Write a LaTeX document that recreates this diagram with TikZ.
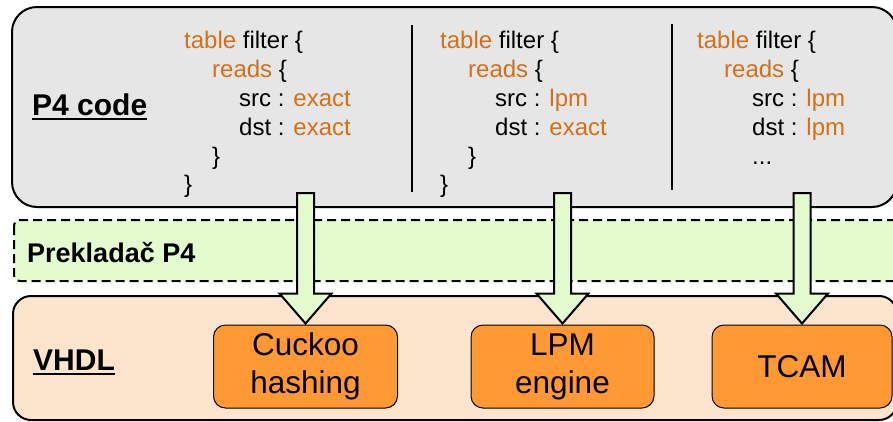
\documentclass[tikz,border=0pt]{standalone}
\usepackage{fontspec}
\setmainfont{Liberation Sans}
\usetikzlibrary{calc}

\definecolor{codegray}{RGB}{230,230,230}
\definecolor{compgreen}{RGB}{227,251,205}
\definecolor{vhdlpeach}{RGB}{253,229,205}
\definecolor{engineorange}{RGB}{255,153,51}
\definecolor{keyword}{RGB}{212,112,24}

\newcommand\kw[1]{\textcolor{keyword}{#1}}

\tikzset{
  layer/.style={draw=black, line width=2pt},
  codeline/.style={anchor=base west, inner sep=0pt, font=\fontsize{24}{29}\selectfont},
  title/.style={anchor=base west, inner sep=0pt, font=\fontsize{30}{35}\selectfont\bfseries},
  ulined/.style={line width=2pt},
  divider/.style={line width=2.5pt},
  engine/.style={draw=black, line width=1pt, fill=engineorange, rounded corners=12pt,
    align=center, font=\fontsize{31.5}{38}\selectfont},
  fatarrow/.style={draw=black, line width=2pt, fill=compgreen, line join=miter},
}

% block arrow from a start coordinate down to the north side of an engine box
\newcommand\fatarrow[2]{%
  \path[fatarrow]
    ([xshift=-8.5pt]#1) -- ([xshift=-8.5pt,yshift=31pt]#2.north)
    -- ([xshift=-26pt,yshift=31pt]#2.north) -- ([yshift=1pt]#2.north)
    -- ([xshift=26pt,yshift=31pt]#2.north) -- ([xshift=8.5pt,yshift=31pt]#2.north)
    -- ([xshift=8.5pt]#1) -- cycle;}

\begin{document}
\begin{tikzpicture}[x=1pt,y=-1pt]
\useasboundingbox (0,0) rectangle (893,421);
\clip (0,0) rectangle (893,421);

% layers
\path[layer, fill=codegray, rounded corners=25pt] (12,7) rectangle (897,207);
\path[layer, fill=compgreen, dashed, dash pattern=on 9pt off 5pt, rounded corners=6pt]
  (14,220) rectangle (905,281);
\path[layer, fill=vhdlpeach, rounded corners=18pt] (13,296) rectangle (897,420);

% layer titles
\node[title] (p4) at (32,115) {P4 code};
\draw[ulined] ([yshift=-3.5pt]p4.base west) -- ([yshift=-3.5pt]p4.base east);
\node[anchor=base west, inner sep=0pt, font=\fontsize{27}{32}\selectfont\bfseries]
  (comp) at (27,262) {Prekladač P4};
\node[title] (vhdl) at (33,370) {VHDL};
\draw[ulined] ([yshift=-3.5pt]vhdl.base west) -- ([yshift=-3.5pt]vhdl.base east);

% code column 1
\node[codeline] (a1) at (184,48) {\kw{table} filter \{};
\node[codeline] (a2) at (212,77) {\kw{reads} \{};
\node[codeline] (a3) at (239,106) {src : \kw{exact}};
\node[codeline] (a4) at (239,135) {dst : \kw{exact}};
\node[codeline] (a5) at (212,164) {\}};
\node[codeline] (a6) at (184,192) {\}};

% code column 2
\node[codeline] (b1) at (440,48) {\kw{table} filter \{};
\node[codeline] (b2) at (468,77) {\kw{reads} \{};
\node[codeline] (b3) at (495,106) {src : \kw{lpm}};
\node[codeline] (b4) at (495,135) {dst : \kw{exact}};
\node[codeline] (b5) at (468,164) {\}};
\node[codeline] (b6) at (440,192) {\}};

% code column 3
\node[codeline] (c1) at (697,48) {\kw{table} filter \{};
\node[codeline] (c2) at (724,77) {\kw{reads} \{};
\node[codeline] (c3) at (752,106) {src : \kw{lpm}};
\node[codeline] (c4) at (752,135) {dst : \kw{lpm}};
\node[codeline] (c5) at (752,164) {...};

% column dividers
\coordinate (d1t) at (412,25); \coordinate (d1b) at (412,192);
\coordinate (d2t) at (672,24); \coordinate (d2b) at (672,190);
\draw[divider] (d1t) -- (d1b);
\draw[divider] (d2t) -- (d2b);

% hardware engines
\node[engine, minimum width=184pt, minimum height=83pt] (cuckoo) at (305.5,366.5) {Cuckoo\\hashing};
\node[engine, minimum width=183pt, minimum height=83pt] (lpm) at (562.5,366.5) {LPM\\engine};
\node[engine, minimum width=180pt, minimum height=83pt] (tcam) at (802,366.5) {TCAM};

% translation arrows
\coordinate (s1) at (cuckoo.north |- 0,193);
\coordinate (s2) at (lpm.north |- 0,193);
\coordinate (s3) at (tcam.north |- 0,193);
\fatarrow{s1}{cuckoo}
\fatarrow{s2}{lpm}
\fatarrow{s3}{tcam}
\end{tikzpicture}
\end{document}
